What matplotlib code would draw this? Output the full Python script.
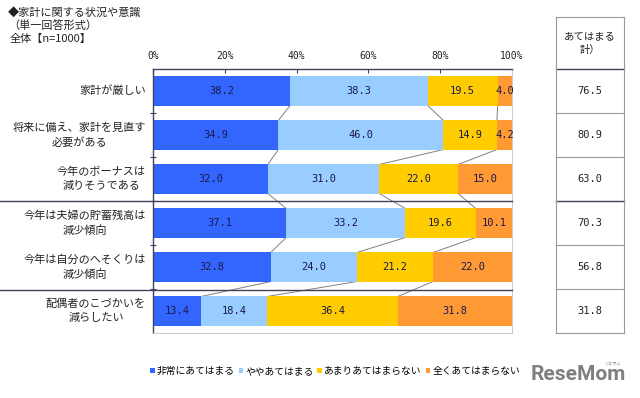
import matplotlib
matplotlib.use('Agg')
import matplotlib.pyplot as plt
from matplotlib.patches import Patch
import numpy as np

plt.rcParams['font.family'] = ['Noto Sans CJK JP', 'DejaVu Sans']

# data
labels = ['家計が厳しい',
          '将来に備え、家計を見直す\n必要がある',
          '今年のボーナスは\n減りそうである',
          '今年は夫婦の貯蓄残高は\n減少傾向',
          '今年は自分のへそくりは\n減少傾向',
          '配偶者のこづかいを\n減らしたい']
very = [38.2, 34.9, 32.0, 37.1, 32.8, 13.4]
somewhat = [38.3, 46.0, 31.0, 33.2, 24.0, 18.4]
not_much = [19.5, 14.9, 22.0, 19.6, 21.2, 36.4]
not_at_all = [4.0, 4.2, 15.0, 10.1, 22.0, 31.8]
totals = [76.5, 80.9, 63.0, 70.3, 56.8, 31.8]
series_names = ['非常にあてはまる', 'ややあてはまる', 'あまりあてはまらない', '全くあてはまらない']
colors = ['#3366ff', '#99ccff', '#ffcc00', '#ff9933']
xticks = [0, 20, 40, 60, 80, 100]

W, H = 640, 398
fig = plt.figure(figsize=(W / 100, H / 100), dpi=100)
mono = ['DejaVu Sans Mono']

def fx(px):
    return px / W

def fy(py):
    return 1 - py / H

# main axes
ax = fig.add_axes([fx(153), fy(333), fx(512) - fx(153), fy(69) - fy(333)])
n = len(labels)
ypos = np.arange(n) + 0.5
bh = 0.66
data = np.array([very, somewhat, not_much, not_at_all])
left = np.zeros(n)
for k in range(4):
    ax.barh(ypos, data[k], left=left, height=bh, color=colors[k], edgecolor='none', zorder=2)
    for i in range(n):
        v = data[k][i]
        ax.text(left[i] + v / 2, ypos[i], '%.1f' % v, ha='center', va='center',
                fontsize=7.5, color='#1a1a4a', family=mono, zorder=4)
    left = left + data[k]

# connector lines
cum = np.cumsum(data, axis=0)
for k in range(3):
    for i in range(n - 1):
        ax.plot([cum[k][i], cum[k][i + 1]], [ypos[i] + bh / 2, ypos[i + 1] - bh / 2],
                color='#808080', lw=0.7, zorder=1)

ax.set_xlim(0, 100)
ax.set_ylim(n, 0)
ax.xaxis.tick_top()
ax.set_xticks(xticks)
ax.set_xticklabels(['%d%%' % t for t in xticks], fontsize=7, color='#222222', family=mono)
ax.tick_params(axis='x', direction='in', length=3, pad=6, color='#404060')
ax.set_yticks(np.arange(1, n))
ax.set_yticklabels([])
ax.tick_params(axis='y', direction='inout', length=4, color='#404060')
ax.spines['top'].set_color('#404060')
ax.spines['left'].set_color('#404060')
ax.spines['right'].set_color('#cccccc')
ax.spines['bottom'].set_color('#cccccc')
for s in ['top', 'left']:
    ax.spines[s].set_linewidth(1.0)

# category labels
for i in range(n):
    fig.text(fx(146), fy(91 + 44 * i), labels[i], ha='right', va='center',
             multialignment='center', fontsize=8, linespacing=1.5, color='#222222')

# group separators
for py in [201, 290]:
    fig.add_artist(plt.Line2D([0, fx(512)], [fy(py), fy(py)], color='#404060', lw=1.0))

# right table
tx0, tx1 = 556, 624
tab_lines = [17, 69, 113, 157, 201, 245, 289, 333]
for py in tab_lines:
    c = '#404060' if py in (69, 201) else '#999999'
    lw = 1.0 if py in (69, 201) else 0.8
    fig.add_artist(plt.Line2D([fx(tx0), fx(tx1)], [fy(py), fy(py)], color=c, lw=lw))
for px in [tx0, tx1]:
    fig.add_artist(plt.Line2D([fx(px), fx(px)], [fy(17), fy(333)], color='#999999', lw=0.8))
fig.text(fx((tx0 + tx1) / 2), fy(43), 'あてはまる\n計）', ha='center', va='center',
         fontsize=7.5, linespacing=1.4, color='#222222')
for i in range(n):
    fig.text(fx((tx0 + tx1) / 2), fy(91 + 44 * i), '%.1f' % totals[i], ha='center',
             va='center', fontsize=7.5, color='#222222', family=mono)

# title
fig.text(fx(8), fy(12), '◆家計に関する状況や意識', ha='left', va='center', fontsize=8, color='#222222')
fig.text(fx(8), fy(25), '（単一回答形式）', ha='left', va='center', fontsize=8, color='#222222')
fig.text(fx(10), fy(39), '全体【n=1000】', ha='left', va='center', fontsize=8, color='#222222')

# legend
handles = [Patch(facecolor=c, edgecolor='none') for c in colors]
fig.legend(handles, series_names, loc='center', bbox_to_anchor=(fx(335), fy(371)), ncol=4,
           frameon=False, fontsize=7, handlelength=0.5, handleheight=0.5,
           handletextpad=0.2, columnspacing=0.4)

# watermark
fig.text(fx(578), fy(375), 'ReseMom', ha='center', va='center', fontsize=15,
         fontweight='bold', color='#7f7f7f', family=['Roboto', 'DejaVu Sans'])
fig.text(fx(612), fy(364), 'リセマム', ha='center', va='center', fontsize=3, color='#7f7f7f')

fig.savefig('out.png', dpi=100)
